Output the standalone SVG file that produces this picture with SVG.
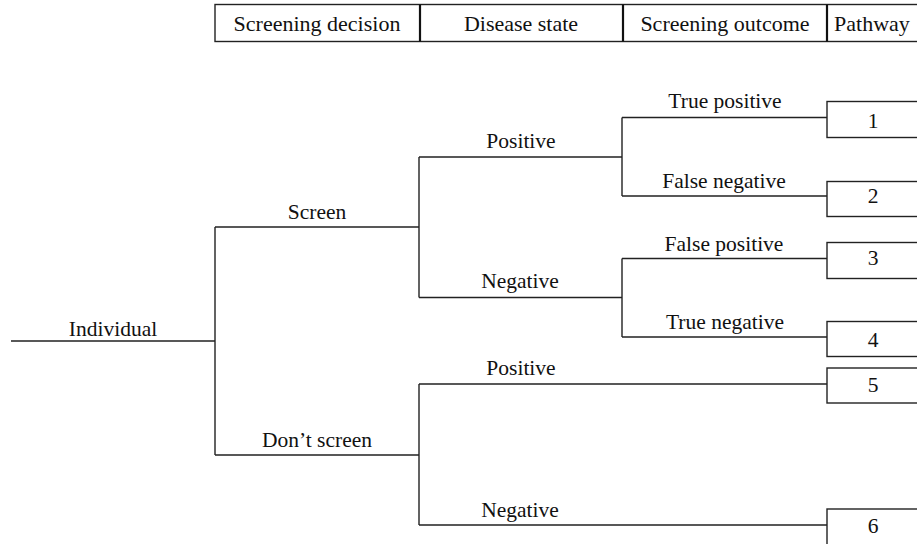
<svg xmlns="http://www.w3.org/2000/svg" width="917" height="544" viewBox="0 0 917 544">
<style>
text{font-family:"Times New Roman",Times,"Liberation Serif",Tinos,"Nimbus Roman","DejaVu Serif",serif;font-size:21.5px;fill:#111;text-anchor:middle}
.hd{font-size:22px}
.ln{fill:none;stroke:#222;stroke-width:1.4}
.bx{fill:#fff;stroke:#222;stroke-width:1.4}
.dv{stroke:#111;stroke-width:2.2}
</style>
<rect width="917" height="544" fill="#fff"/>
<g id="header">
<rect class="bx" x="215" y="4.5" width="710" height="37"/>
<line class="dv" x1="420" y1="4.5" x2="420" y2="41.5"/>
<line class="dv" x1="623" y1="4.5" x2="623" y2="41.5"/>
<line class="dv" x1="827" y1="4.5" x2="827" y2="41.5"/>
<text class="hd" x="317" y="31">Screening decision</text>
<text class="hd" x="521" y="31">Disease state</text>
<text class="hd" x="725" y="31">Screening outcome</text>
<text class="hd" x="872" y="31">Pathway</text>
</g>
<g id="connectors">
<path class="ln" d="M11 341H215M215 227V455M215 227H419M215 455H419"/>
<path class="ln" d="M419 157V297.5M419 157H622M419 297.5H622"/>
<path class="ln" d="M419 384V525M419 384H827M419 525H827"/>
<path class="ln" d="M622 117.5V196M622 117.5H827M622 196H827"/>
<path class="ln" d="M622 258.5V337M622 258.5H827M622 337H827"/>
</g>
<g id="labels">
<text x="113" y="336">Individual</text>
<text x="317" y="219">Screen</text>
<text x="317" y="447">Don’t screen</text>
<text x="521" y="148">Positive</text>
<text x="520" y="288">Negative</text>
<text x="521" y="375">Positive</text>
<text x="520" y="517">Negative</text>
<text x="725" y="108">True positive</text>
<text x="724" y="188">False negative</text>
<text x="724" y="251">False positive</text>
<text x="725" y="329">True negative</text>
</g>
<g id="pathway1"><rect class="bx" x="827" y="101.5" width="100" height="36"/><text x="873" y="128">1</text></g>
<g id="pathway2"><rect class="bx" x="827" y="181.5" width="100" height="35"/><text x="873" y="203">2</text></g>
<g id="pathway3"><rect class="bx" x="827" y="242.5" width="100" height="36"/><text x="873" y="265">3</text></g>
<g id="pathway4"><rect class="bx" x="827" y="321.5" width="100" height="35"/><text x="873" y="347">4</text></g>
<g id="pathway5"><rect class="bx" x="827" y="368" width="100" height="35"/><text x="873" y="392">5</text></g>
<g id="pathway6"><rect class="bx" x="827" y="509" width="100" height="50"/><text x="873" y="533">6</text></g>
</svg>
